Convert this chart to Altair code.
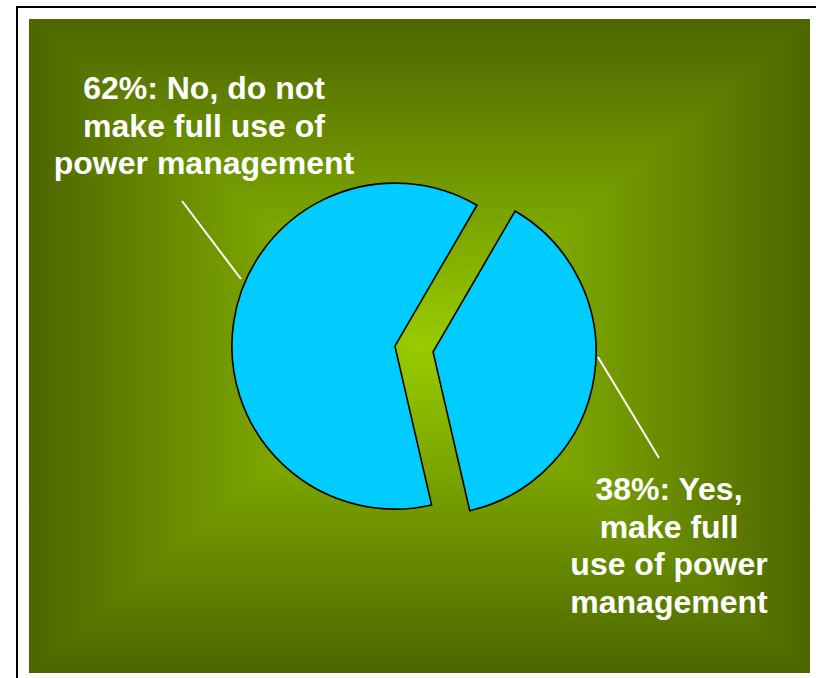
import math
import altair as alt
import pandas as pd

# ---- data ----
answers = ["Yes", "No"]
shares = [38, 62]
label_lines = {
    "Yes": ["38%: Yes,", "make full", "use of power", "management"],
    "No": ["62%: No, do not", "make full use of", "power management"],
}

# ---- layout / style ----
W, H = 816, 678
PX0, PY0, PX1, PY1 = 29, 19, 810, 673          # green panel
CX, CY = 414, 349                               # pie centre
R = 163
EXPLODE = 19.3
START_DEG = 30.2
EDGE = "#4D6600"
CENTER = "#99CC00"
SLICE = "#00CCFF"
FONT = "Liberation Sans"
D = 0.003                                       # small overlap of background pieces

label_pos = {"Yes": (669, 500), "No": (204, 99)}
leader = {"Yes": (598, 357, 659, 458), "No": (182, 201, 241, 279)}

xs = alt.Scale(domain=[0, 1], range=[PX0, PX1])
ys = alt.Scale(domain=[0, 1], range=[PY0, PY1])


def grad(x1, y1, x2, y2, c1, c2):
    return alt.Gradient(
        gradient="linear", x1=x1, y1=y1, x2=x2, y2=y2,
        stops=[alt.GradientStop(color=c1, offset=0), alt.GradientStop(color=c2, offset=1)],
    )


# background: rectangular "from centre" gradient built from four triangles
left = pd.DataFrame({"v": [0, 0.5, 1], "lo": [0, 0, 0], "hi": [0, 0.5, 0]})
right = pd.DataFrame({"v": [0, 0.5, 1], "lo": [1, 0.5, 1], "hi": [1, 1, 1]})
top = pd.DataFrame({"u": [0, 0.5, 1], "lo": [0, 0, 0], "hi": [D, 0.5 + D, D]})
bot = pd.DataFrame({"u": [0, 0.5, 1], "lo": [1 - D, 0.5 - D, 1 - D], "hi": [1, 1, 1]})

bg_layers = []
for d, g in [(left, grad(0, 0, 1, 0, EDGE, CENTER)), (right, grad(0, 0, 1, 0, CENTER, EDGE))]:
    bg_layers.append(
        alt.Chart(d).mark_area(orient="horizontal", fill=g).encode(
            y=alt.Y("v:Q", scale=ys, axis=None),
            x=alt.X("lo:Q", scale=xs, axis=None),
            x2="hi:Q",
        )
    )
for d, g in [(top, grad(0, 0, 0, 1, EDGE, CENTER)), (bot, grad(0, 0, 0, 1, CENTER, EDGE))]:
    bg_layers.append(
        alt.Chart(d).mark_area(orient="vertical", fill=g).encode(
            x=alt.X("u:Q", scale=xs, axis=None),
            y=alt.Y("lo:Q", scale=ys, axis=None),
            y2="hi:Q",
        )
    )

# pie
df = pd.DataFrame({"answer": answers, "share": shares, "order": list(range(len(answers)))})
total = sum(shares)
base = (
    alt.Chart(df)
    .transform_window(cum="sum(share)", sort=[alt.SortField("order")], frame=[None, 0])
    .transform_calculate(start="datum.cum - datum.share")
)
a0 = math.radians(START_DEG)
theta_scale = alt.Scale(domain=[0, total], range=[a0, a0 + 2 * math.pi])

pie_layers = []
text_layers = []
cum = 0
for ans, s in zip(answers, shares):
    mid = a0 + 2 * math.pi * (cum + s / 2) / total
    cum += s
    dx = EXPLODE * math.sin(mid)
    dy = -EXPLODE * math.cos(mid)
    pie_layers.append(
        base.transform_filter(alt.datum.answer == ans)
        .mark_arc(radius=R, fill=SLICE, stroke="black", strokeWidth=1.6)
        .encode(
            theta=alt.Theta("start:Q", scale=theta_scale),
            theta2="cum:Q",
            x=alt.value(CX + dx),
            y=alt.value(CY + dy),
        )
    )
    lx, ly = label_pos[ans]
    text_layers.append(
        base.transform_filter(alt.datum.answer == ans)
        .mark_text(font=FONT, fontSize=32, fontWeight="bold", color="white",
                   align="center", baseline="alphabetic", lineHeight=37.5)
        .encode(text=alt.value(label_lines[ans]), x=alt.value(lx), y=alt.value(ly))
    )
    x1, y1, x2, y2 = leader[ans]
    text_layers.append(
        base.transform_filter(alt.datum.answer == ans)
        .mark_rule(color="white", strokeWidth=2)
        .encode(x=alt.value(x1), y=alt.value(y1), x2=alt.value(x2), y2=alt.value(y2))
    )

border = alt.Chart(pd.DataFrame({"k": [0]})).mark_rect(
    fill=None, stroke="black", strokeWidth=2
).encode(x=alt.value(17), y=alt.value(7), x2=alt.value(W + 10), y2=alt.value(H + 10))

chart = (
    alt.layer(*bg_layers, *pie_layers, *text_layers, border)
    .properties(width=W, height=H, autosize=alt.AutoSizeParams(type="none"), padding=0, background="white")
    .configure_view(stroke=None)
)

chart.save("out.html", embed_options={"renderer": "svg", "actions": False})
